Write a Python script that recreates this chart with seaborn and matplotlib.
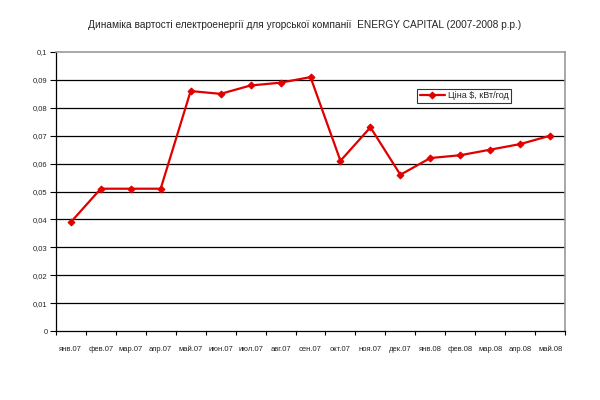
import pandas as pd
import seaborn as sns
import matplotlib.pyplot as plt
from matplotlib.ticker import MultipleLocator, FuncFormatter

# Monthly electricity price data
months = ['янв.07', 'фев.07', 'мар.07', 'апр.07', 'май.07', 'июн.07', 'июл.07',
          'авг.07', 'сен.07', 'окт.07', 'ноя.07', 'дек.07', 'янв.08', 'фев.08',
          'мар.08', 'апр.08', 'май.08']
price = [0.039, 0.051, 0.051, 0.051, 0.086, 0.085, 0.088, 0.089, 0.091,
         0.061, 0.073, 0.056, 0.062, 0.063, 0.065, 0.067, 0.070]
series_label = 'Ціна $, кВт/год'
title = 'Динаміка вартості електроенергії для угорської компанії  ENERGY CAPITAL (2007-2008 р.р.)'

df = pd.DataFrame({'month': months, 'price': price})

sns.set_style("white")
plt.rcParams['font.family'] = ['Liberation Sans', 'DejaVu Sans']

fig = plt.figure(figsize=(6, 4), dpi=100)
ax = fig.add_axes([0.093, 0.1725, 0.849, 0.6975])

sns.lineplot(data=df, x='month', y='price', sort=False, ax=ax, color='#e00000',
             linewidth=1.6, marker='D', markersize=3.5, markeredgecolor='#e00000',
             label=series_label)

ax.set_ylim(0, 0.1)
ax.set_xlim(-0.5, len(months) - 0.5)
ax.yaxis.set_major_locator(MultipleLocator(0.01))
ax.yaxis.set_major_formatter(FuncFormatter(
    lambda v, p: '0' if abs(v) < 1e-9 else f'{v:.2f}'.rstrip('0').replace('.', ',')))

# horizontal gridlines in black
for v in [0.01 * i for i in range(1, 10)]:
    ax.axhline(v, color='black', linewidth=0.9, zorder=0)

# tick marks at category boundaries
ax.set_xticks(range(len(months)))
ax.set_xticklabels(months)
ax.set_xticks([i - 0.5 for i in range(len(months) + 1)], minor=True)
ax.tick_params(axis='x', which='major', length=0, labelsize=5.5, pad=11)
ax.tick_params(axis='x', which='minor', length=3, width=0.8, color='black', direction='out')
ax.tick_params(axis='y', length=4, width=0.8, color='black', direction='out', labelsize=5.5, pad=2)
ax.tick_params(bottom=True, left=True, which='both')

for side in ['left', 'bottom']:
    ax.spines[side].set_color('black')
    ax.spines[side].set_linewidth(0.9)
for side in ['top', 'right']:
    ax.spines[side].set_color('#999999')
    ax.spines[side].set_linewidth(1.2)

ax.set_xlabel('')
ax.set_ylabel('')

leg = ax.legend(loc='upper left', bbox_to_anchor=(0.70, 0.885), fontsize=6.5,
                frameon=True, fancybox=False, edgecolor='black', handlelength=2.8,
                borderpad=0.3, handletextpad=0.3)
leg.get_frame().set_linewidth(0.8)

fig.text(0.508, 0.937, title, ha='center', va='center', fontsize=7.3)

fig.savefig('out.png', dpi=100)
